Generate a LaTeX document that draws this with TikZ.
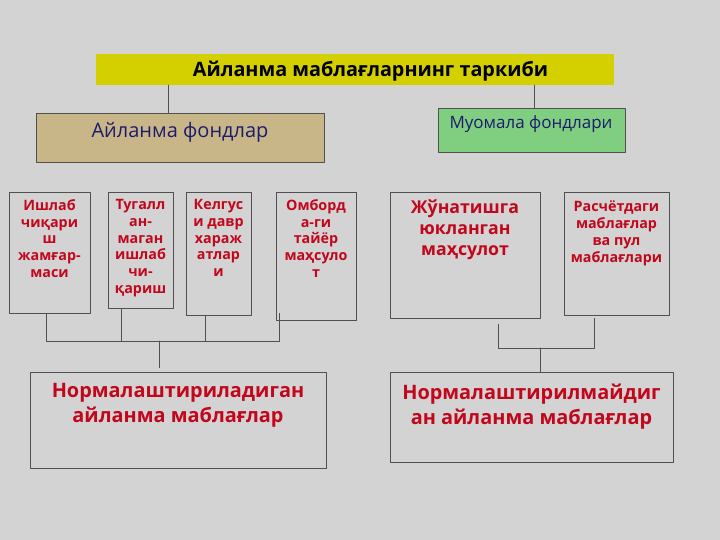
\documentclass[tikz,border=0pt]{standalone}
\usepackage{fontspec}
\setmainfont{Open Sans}
\usetikzlibrary{calc,positioning}

\definecolor{bggray}{RGB}{211,211,211}
\definecolor{titleyellow}{RGB}{212,208,0}
\definecolor{fondtan}{RGB}{201,182,136}
\definecolor{muogreen}{RGB}{128,206,128}
\definecolor{framegray}{RGB}{80,80,80}
\definecolor{txtred}{RGB}{194,6,28}
\definecolor{txtnavy}{RGB}{28,28,110}

\begin{document}
\begin{tikzpicture}[x=1pt,y=-1pt,line join=round,line cap=round,
  box/.style={draw=framegray,line width=0.9pt,inner sep=0pt},
  redtxt/.style={text=txtred,align=center,inner sep=0pt,anchor=north},
  link/.style={draw=framegray,line width=0.9pt}]
  \fill[bggray] (0,0) rectangle (720,540);
  \useasboundingbox (0,0) rectangle (720,540);

  % title and the two groups
  \node[fill=titleyellow,minimum width=518pt,minimum height=31pt,inner sep=0pt] (title) at (355,69.5) {};
  \node[font=\fontsize{19.8}{22}\selectfont\bfseries] (titletxt) at (370.5,71) {Айланма маблағларнинг таркиби};
  \node[box,fill=fondtan,minimum width=288pt,minimum height=49pt] (fondlar) at (180,137.5) {};
  \node[text=txtnavy,font=\fontsize{20}{22}\selectfont] (fondtxt) at (180,132) {Айланма фондлар};
  \node[box,fill=muogreen,minimum width=187pt,minimum height=44pt] (muomala) at (531.5,130) {};
  \node[text=txtnavy,font=\fontsize{17}{19}\selectfont] (muotxt) at (531,124) {Муомала фондлари};

  % small boxes
  \node[box,minimum width=81pt,minimum height=121pt] (ishlab) at (49.5,252.5) {};
  \node[box,minimum width=65pt,minimum height=116pt] (tugal) at (140.5,250) {};
  \node[box,minimum width=65pt,minimum height=123pt] (kelgus) at (218.5,253.5) {};
  \node[box,minimum width=80pt,minimum height=128pt] (ombor) at (316,256) {};
  \node[box,minimum width=150pt,minimum height=126pt] (junat) at (465,255) {};
  \node[box,minimum width=105pt,minimum height=123pt] (raschet) at (616.5,253.5) {};

  \begin{scope}[font=\fontsize{14.3}{16.8}\selectfont\bfseries]
    \node[redtxt,below=7.5pt of ishlab.north] (ishlabtxt) {Ишлаб\\чиқари\\ш\\жамғар-\\маси};
    \node[redtxt,below=7.5pt of tugal.north] (tugaltxt) {Тугалл\\ан-\\маган\\ишлаб\\чи-\\қариш};
    \node[redtxt,below=7.5pt of kelgus.north] (kelgustxt) {Келгус\\и давр\\хараж\\атлар\\и};
    \node[redtxt,below=7.5pt of ombor.north] (omborxt) {Омборд\\а-ги\\тайёр\\маҳсуло\\т};
  \end{scope}
  \node[redtxt,below=8pt of junat.north,font=\fontsize{17.7}{21}\selectfont\bfseries] (junattxt) {Жўнатишга\\юкланган\\маҳсулот};
  \node[redtxt,below=8.5pt of raschet.north,font=\fontsize{14.3}{17}\selectfont\bfseries] (raschettxt) {Расчётдаги\\маблағлар\\ва пул\\маблағлари};

  % bottom boxes
  \node[box,minimum width=296pt,minimum height=96pt] (norm) at (178,420) {};
  \node[box,minimum width=283pt,minimum height=90pt] (nonorm) at (531.5,417) {};
  \node[redtxt,below=12pt of norm.north,font=\fontsize{19.9}{25}\selectfont\bfseries] (normtxt) {Нормалаштириладиган\\айланма маблағлар};
  \node[redtxt,below=12pt of nonorm.north,font=\fontsize{19.9}{25}\selectfont\bfseries] (nonormtxt) {Нормалаштирилмайдиг\\ан айланма маблағлар};

  % connectors
  \coordinate (busL) at (159,341);
  \coordinate (busR) at (540,348);
  \draw[link] ([xshift=-12pt]fondlar.north) -- ([xshift=-12pt]fondlar.north |- title.south);
  \draw[link] ([xshift=2.5pt]muomala.north) -- ([xshift=2.5pt]muomala.north |- title.south);
  \draw[link] ([xshift=-3.5pt]ishlab.south) |- (busL);
  \draw[link] ([xshift=-19.5pt]tugal.south) |- (busL);
  \draw[link] ([xshift=-13.5pt]kelgus.south) |- (busL);
  \draw[link] ([xshift=4pt,yshift=7pt]ombor.south west) |- (busL);
  \draw[link] (busL) -- ([yshift=4pt]busL |- norm.north);
  \draw[link] ([xshift=33pt,yshift=-6pt]junat.south) |- (busR);
  \draw[link] ([xshift=-22.5pt,yshift=-3pt]raschet.south) |- (busR);
  \draw[link] (busR) -- (busR |- nonorm.north);
\end{tikzpicture}
\end{document}
